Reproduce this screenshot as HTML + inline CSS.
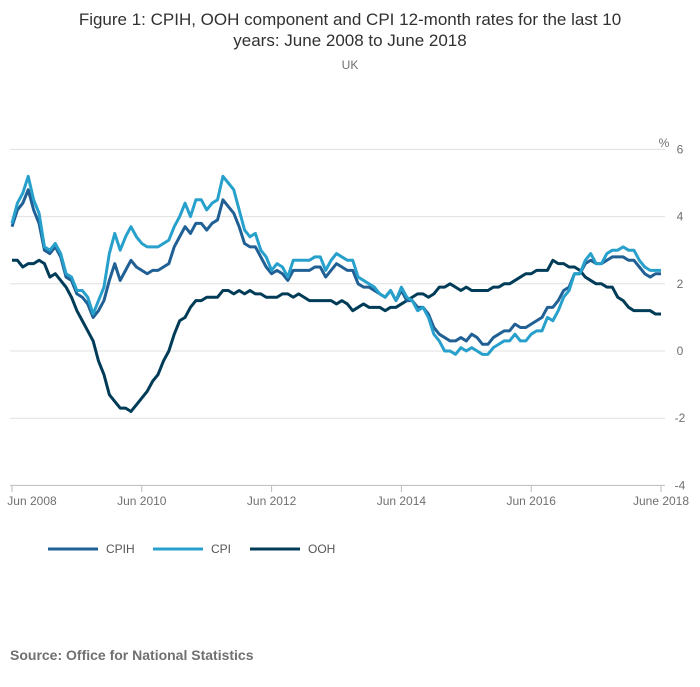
<!DOCTYPE html>
<html><head><meta charset="utf-8"><style>
body{margin:0;background:#fff;font-family:"Liberation Sans",sans-serif;}
svg text{font-family:"Liberation Sans",sans-serif;}
</style></head><body>
<svg width="700" height="682">
<text x="350" y="25" text-anchor="middle" font-size="17" fill="#323132">Figure 1: CPIH, OOH component and CPI 12-month rates for the last 10</text>
<text x="350" y="46" text-anchor="middle" font-size="17" fill="#323132">years: June 2008 to June 2018</text>
<text x="350" y="69" text-anchor="middle" font-size="12" fill="#707070">UK</text>
<text x="664" y="147" text-anchor="middle" font-size="12" fill="#707070">%</text>
<g id="grid"></g><g id="xax"></g><g id="lines"></g>
<g>
<line x1="48" y1="549" x2="98" y2="549" stroke="#206095" stroke-width="3"/><text x="106" y="553" font-size="12" fill="#555">CPIH</text>
<line x1="153" y1="549" x2="203" y2="549" stroke="#27a0cc" stroke-width="3"/><text x="211" y="553" font-size="12" fill="#555">CPI</text>
<line x1="250" y1="549" x2="300" y2="549" stroke="#003c57" stroke-width="3"/><text x="308" y="553" font-size="12" fill="#555">OOH</text>
</g>
<text x="10" y="660" font-size="14" font-weight="bold" fill="#707070">Source: Office for National Statistics</text>
</svg>
<script>
const yTicks=[6,4,2,0,-2,-4];
const xTickLabels=["Jun 2008","Jun 2010","Jun 2012","Jun 2014","Jun 2016","June 2018"];
const xTickMonths=[0,24,48,72,96,120];
const cpih=[3.7,4.2,4.4,4.8,4.2,3.8,3.0,2.9,3.1,2.8,2.2,2.1,1.7,1.6,1.4,1.0,1.2,1.5,2.1,2.6,2.1,2.4,2.7,2.5,2.4,2.3,2.4,2.4,2.5,2.6,3.1,3.4,3.7,3.5,3.8,3.8,3.6,3.8,3.9,4.5,4.3,4.1,3.7,3.2,3.1,3.1,2.8,2.5,2.3,2.4,2.3,2.1,2.4,2.4,2.4,2.4,2.5,2.5,2.2,2.4,2.6,2.5,2.4,2.4,2.0,1.9,1.9,1.8,1.7,1.6,1.8,1.5,1.8,1.5,1.5,1.3,1.3,1.1,0.7,0.5,0.4,0.3,0.3,0.4,0.3,0.5,0.4,0.2,0.2,0.4,0.5,0.6,0.6,0.8,0.7,0.7,0.8,0.9,1.0,1.3,1.3,1.5,1.8,1.9,2.3,2.3,2.6,2.7,2.6,2.6,2.7,2.8,2.8,2.8,2.7,2.7,2.5,2.3,2.2,2.3,2.3];
const cpi=[3.8,4.4,4.7,5.2,4.5,4.1,3.1,3.0,3.2,2.9,2.3,2.2,1.8,1.8,1.6,1.1,1.5,1.9,2.9,3.5,3.0,3.4,3.7,3.4,3.2,3.1,3.1,3.1,3.2,3.3,3.7,4.0,4.4,4.0,4.5,4.5,4.2,4.4,4.5,5.2,5.0,4.8,4.2,3.6,3.4,3.5,3.0,2.8,2.4,2.6,2.5,2.2,2.7,2.7,2.7,2.7,2.8,2.8,2.4,2.7,2.9,2.8,2.7,2.7,2.2,2.1,2.0,1.9,1.7,1.6,1.8,1.5,1.9,1.6,1.5,1.2,1.3,1.0,0.5,0.3,0.0,0.0,-0.1,0.1,0.0,0.1,0.0,-0.1,-0.1,0.1,0.2,0.3,0.3,0.5,0.3,0.3,0.5,0.6,0.6,1.0,0.9,1.2,1.6,1.8,2.3,2.3,2.7,2.9,2.6,2.6,2.9,3.0,3.0,3.1,3.0,3.0,2.7,2.5,2.4,2.4,2.4];
const ooh=[2.7,2.7,2.5,2.6,2.6,2.7,2.6,2.2,2.3,2.1,1.9,1.6,1.2,0.9,0.6,0.3,-0.3,-0.7,-1.3,-1.5,-1.7,-1.7,-1.8,-1.6,-1.4,-1.2,-0.9,-0.7,-0.3,0.0,0.5,0.9,1.0,1.3,1.5,1.5,1.6,1.6,1.6,1.8,1.8,1.7,1.8,1.7,1.8,1.7,1.7,1.6,1.6,1.6,1.7,1.7,1.6,1.7,1.6,1.5,1.5,1.5,1.5,1.5,1.4,1.5,1.4,1.2,1.3,1.4,1.3,1.3,1.3,1.2,1.3,1.3,1.4,1.5,1.6,1.7,1.7,1.6,1.7,1.9,1.9,2.0,1.9,1.8,1.9,1.8,1.8,1.8,1.8,1.9,1.9,2.0,2.0,2.1,2.2,2.3,2.3,2.4,2.4,2.4,2.7,2.6,2.6,2.5,2.5,2.4,2.2,2.1,2.0,2.0,1.9,1.9,1.6,1.5,1.3,1.2,1.2,1.2,1.2,1.1,1.1];
const NS="http://www.w3.org/2000/svg";
const X=m=>12+m*(649/120);
const Y=v=>351-v*33.6;
function mk(t,a,p){const e=document.createElementNS(NS,t);for(const k in a)e.setAttribute(k,a[k]);p.appendChild(e);return e;}
const grid=document.getElementById('grid');
yTicks.forEach(v=>{
 const l=mk('line',{x1:10,x2:665,y1:Y(v),y2:Y(v),stroke:v===-4?'#bbb':'#e0e0e0','stroke-width':1},grid);
 
 
 const t=mk('text',{x:680,y:Y(v)+4,'text-anchor':'middle','font-size':12,fill:'#707070'},grid);
 t.textContent=v;
 
 
});
const xax=document.getElementById('xax');
xTickMonths.forEach((m,i)=>{
 const l=mk('line',{x1:X(m),x2:X(m),y1:486,y2:492,stroke:'#bbb'},xax);
 
 
 const t=mk('text',{x:X(m)+(i===0?20:0),y:505,'text-anchor':'middle','font-size':12,fill:'#707070'},xax);
 t.textContent=xTickLabels[i];
 
 
});
const lines=document.getElementById('lines');
[[ooh,'#003c57','ooh-line'],[cpih,'#206095','cpih-line'],[cpi,'#27a0cc','cpi-line']].forEach(([d,c,n])=>{
 const p=mk('polyline',{points:d.map((v,i)=>X(i)+','+Y(v)).join(' '),fill:'none',stroke:c,'stroke-width':3,'stroke-linejoin':'round'},lines);
 
 
});
</script>
</body></html>
